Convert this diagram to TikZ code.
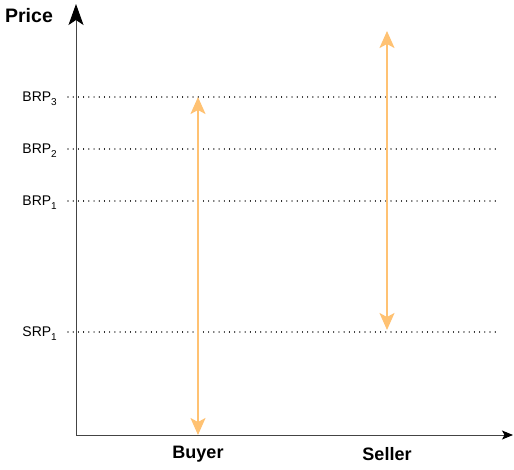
\documentclass[tikz,border=0pt]{standalone}
\usepackage{fontspec}
\setmainfont{Liberation Sans}
\usetikzlibrary{arrows.meta}
\definecolor{arrowor}{HTML}{FFC273}
\definecolor{axisgray}{HTML}{444444}
\newcommand{\lsub}[1]{\raisebox{-0.55ex}{\fontsize{10}{10}\selectfont #1}}
\tikzset{
  axis/.style={draw=axisgray, line width=0.9pt},
  yhead/.style={-{Stealth[width=15pt,length=21pt,inset=5pt,fill=black,color=black]}},
  xhead/.style={-{Stealth[width=9pt,length=11pt,inset=2.5pt,fill=black,color=black]}},
  level/.style={draw=black, line width=1.1pt, dash pattern=on 0.01pt off 5.2pt, line cap=round},
  rng/.style={draw=arrowor, line width=2pt, {Stealth[width=15pt,length=17pt,inset=4pt]}-{Stealth[width=15pt,length=17pt,inset=4pt]}},
  lvl/.style={anchor=east, font=\fontsize{14}{16}\selectfont, inner sep=0pt},
  axlbl/.style={font=\fontsize{18}{21}\selectfont\bfseries, inner sep=0pt}
}
\begin{document}
\begin{tikzpicture}[x=1pt,y=-1pt]
\useasboundingbox (0,0) rectangle (514,469);
\coordinate (O) at (76,435);
\coordinate (Ytop) at (76,4);
\coordinate (Xend) at (513,435);
\draw[axis, yhead] (O) -- (Ytop);
\draw[axis, xhead] (O) -- (Xend);
\node[axlbl, font=\fontsize{19.5}{22}\selectfont\bfseries] (price) at (29,16) {Price};
\node[axlbl] (buyer) at (198,454) {Buyer};
\node[axlbl] (seller) at (387,454) {Seller};
% levels
\node[lvl] (b3) at (57,99) {BRP\lsub{3}};
\node[lvl] (b2) at (57,151) {BRP\lsub{2}};
\node[lvl] (b1) at (57,203) {BRP\lsub{1}};
\node[lvl] (s1) at (57,334) {SRP\lsub{1}};
\coordinate (b3r) at (496,97); \coordinate (b3l) at (68,97);
\coordinate (b2r) at (496,149); \coordinate (b2l) at (68,149);
\coordinate (b1r) at (496,201); \coordinate (b1l) at (68,201);
\coordinate (s1r) at (496,332); \coordinate (s1l) at (68,332);
\draw[level] (b3l) -- (b3r);
\draw[level] (b2l) -- (b2r);
\draw[level] (b1l) -- (b1r);
\draw[level] (s1l) -- (s1r);
% ranges
\coordinate (bt) at (198,97); \coordinate (bb) at (198,435);
\coordinate (st) at (387,31); \coordinate (sb) at (387,330);
\draw[rng] (bb) -- (bt);
\draw[rng] (sb) -- (st);
\end{tikzpicture}
\end{document}
